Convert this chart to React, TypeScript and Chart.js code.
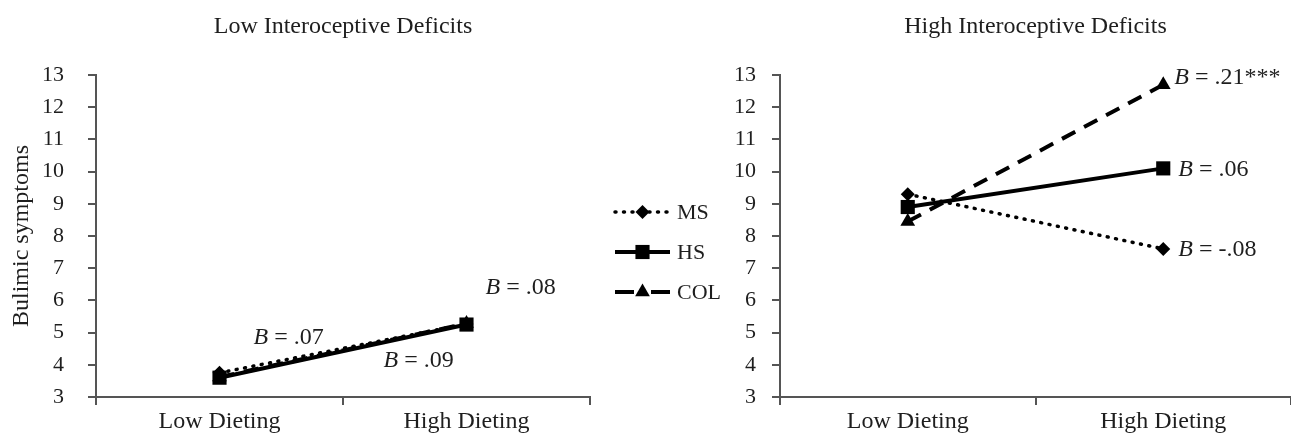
import React, { useEffect, useRef } from 'react';
import { Chart, registerables } from 'chart.js';

Chart.register(...registerables);

const categories = ['Low Dieting', 'High Dieting'];
const seriesNames = ['MS', 'HS', 'COL'];
const panelTitles = ['Low Interoceptive Deficits', 'High Interoceptive Deficits'];
const yAxisTitle = 'Bulimic symptoms';
const yMin = 3;
const yMax = 13;
const yStep = 1;

// Low interoceptive deficits panel
const lowMS = [3.75, 5.27];
const lowHS = [3.6, 5.25];
const lowCOL = [3.62, 5.28];
const lowSlopes = ['.07', '.09', '.08'];

// High interoceptive deficits panel
const highMS = [9.3, 7.6];
const highHS = [8.9, 10.1];
const highCOL = [8.45, 12.7];
const highSlopes = ['-.08', '.06', '.21***'];

const FONT = '"Liberation Serif", "Times New Roman", serif';
const AXIS_COLOR = '#555555';
const TEXT_COLOR = '#1e1e1e';

const seriesStyles = [
  { pointStyle: 'rectRot', radius: 7, dash: [1, 7.5], legendDash: [1, 7.5], width: 3.5, cap: 'round', order: 1 },
  { pointStyle: 'rect', radius: 10, dash: [], legendDash: [], width: 4, cap: 'butt', order: 0 },
  { pointStyle: 'triangle', radius: 8.5, dash: [15, 10], legendDash: [19, 17, 19, 0], width: 4, cap: 'butt', order: 2 },
];

function drawMarker(ctx: CanvasRenderingContext2D, style: string, x: number, y: number, r: number) {
  ctx.beginPath();
  if (style === 'rect') {
    const s = Math.SQRT1_2 * r;
    ctx.rect(x - s, y - s, 2 * s, 2 * s);
  } else if (style === 'rectRot') {
    ctx.moveTo(x - r, y);
    ctx.lineTo(x, y - r);
    ctx.lineTo(x + r, y);
    ctx.lineTo(x, y + r);
    ctx.closePath();
  } else {
    let rad = 0;
    ctx.moveTo(x + Math.sin(rad) * r, y - Math.cos(rad) * r);
    rad += (2 * Math.PI) / 3;
    ctx.lineTo(x + Math.sin(rad) * r, y - Math.cos(rad) * r);
    rad += (2 * Math.PI) / 3;
    ctx.lineTo(x + Math.sin(rad) * r, y - Math.cos(rad) * r);
    ctx.closePath();
  }
  ctx.fillStyle = '#000';
  ctx.fill();
}

const panelPlugin = {
  id: 'panelExtras',
  afterDraw(chart: any, _args: any, opts: any) {
    const ctx: CanvasRenderingContext2D = chart.ctx;
    const area = chart.chartArea;
    ctx.save();
    // panel title
    ctx.fillStyle = TEXT_COLOR;
    ctx.font = `24px ${FONT}`;
    ctx.textAlign = 'center';
    ctx.textBaseline = 'middle';
    ctx.fillText(opts.title, (area.left + area.right) / 2, 27);

    // slope annotations
    ctx.textAlign = 'left';
    (opts.annotations || []).forEach((a: any) => {
      const meta = chart.getDatasetMeta(a.ds);
      const pt = meta.data[a.idx];
      const x = pt.x + a.dx;
      const y = pt.y + a.dy;
      ctx.font = `italic 24px ${FONT}`;
      ctx.fillText('B', x, y);
      const w = ctx.measureText('B').width;
      ctx.font = `24px ${FONT}`;
      ctx.fillText(' = ' + opts.slopes[a.ds], x + w, y);
    });

    // legend
    if (opts.legend) {
      const lg = opts.legend;
      chart.data.datasets.forEach((ds: any, i: number) => {
        const st = seriesStyles[i];
        const y = lg.y + i * lg.gap;
        ctx.save();
        ctx.strokeStyle = '#000';
        ctx.lineWidth = st.width;
        ctx.lineCap = st.cap as CanvasLineCap;
        ctx.setLineDash(st.legendDash);
        ctx.beginPath();
        ctx.moveTo(lg.x, y);
        ctx.lineTo(lg.x + lg.len, y);
        ctx.stroke();
        ctx.restore();
        drawMarker(ctx, st.pointStyle, lg.x + lg.len / 2, y, st.radius);
        ctx.fillStyle = TEXT_COLOR;
        ctx.font = `22px ${FONT}`;
        ctx.textAlign = 'left';
        ctx.textBaseline = 'middle';
        ctx.fillText(ds.label, lg.x + lg.len + 7, y + 1);
      });
    }
    ctx.restore();
  },
};

function makeDatasets(ms: number[], hs: number[], col: number[]) {
  return [ms, hs, col].map((vals, i) => {
    const st = seriesStyles[i];
    return {
      label: seriesNames[i],
      data: vals,
      borderColor: '#000',
      backgroundColor: '#000',
      borderWidth: st.width,
      borderDash: st.dash,
      borderCapStyle: st.cap,
      pointStyle: st.pointStyle,
      pointRadius: st.radius,
      pointBackgroundColor: '#000',
      pointBorderColor: '#000',
      pointBorderWidth: 0,
      order: st.order,
      tension: 0,
      fill: false,
    };
  });
}

function makeConfig(
  datasets: any[],
  yWidth: number,
  tickPad: number,
  showTitle: boolean,
  padRight: number,
  extras: any
): any {
  return {
    type: 'line',
    data: { labels: categories, datasets },
    plugins: [panelPlugin],
    options: {
      responsive: false,
      animation: false,
      devicePixelRatio: 1,
      layout: { autoPadding: false, padding: { left: 0, right: padRight, top: 75, bottom: 0 } },
      plugins: {
        legend: { display: false },
        title: { display: false },
        tooltip: { enabled: false },
        panelExtras: extras,
      },
      scales: {
        x: {
          type: 'category',
          offset: true,
          grid: {
            offset: true,
            drawOnChartArea: false,
            drawTicks: true,
            tickLength: 8,
            color: AXIS_COLOR,
            lineWidth: 2,
          },
          border: { color: AXIS_COLOR, width: 2 },
          ticks: {
            color: TEXT_COLOR,
            font: { family: FONT, size: 24 },
            padding: 2,
            maxRotation: 0,
          },
          afterFit(scale: any) {
            scale.height = 43;
          },
        },
        y: {
          min: yMin,
          max: yMax,
          grid: {
            drawOnChartArea: false,
            drawTicks: true,
            tickLength: 8,
            color: AXIS_COLOR,
            lineWidth: 2,
          },
          border: { color: AXIS_COLOR, width: 2 },
          ticks: {
            stepSize: yStep,
            color: TEXT_COLOR,
            font: { family: FONT, size: 22 },
            padding: tickPad,
          },
          title: {
            display: showTitle,
            text: yAxisTitle,
            color: TEXT_COLOR,
            font: { family: FONT, size: 24 },
            padding: { top: 7, bottom: 0 },
          },
          afterFit(scale: any) {
            scale.width = yWidth;
          },
        },
      },
    },
  };
}

export default function App() {
  const leftRef = useRef<HTMLCanvasElement | null>(null);
  const rightRef = useRef<HTMLCanvasElement | null>(null);

  useEffect(() => {
    const left = new Chart(
      leftRef.current as HTMLCanvasElement,
      makeConfig(makeDatasets(lowMS, lowHS, lowCOL), 96, 24, true, 170, {
        title: panelTitles[0],
        slopes: lowSlopes,
        annotations: [
          { ds: 0, idx: 0, dx: 34, dy: -35 },
          { ds: 1, idx: 1, dx: -83, dy: 36 },
          { ds: 2, idx: 1, dx: 19, dy: -36 },
        ],
        legend: { x: 615, y: 212, gap: 40, len: 55 },
      })
    );
    const right = new Chart(
      rightRef.current as HTMLCanvasElement,
      makeConfig(makeDatasets(highMS, highHS, highCOL), 90, 16, false, 0, {
        title: panelTitles[1],
        slopes: highSlopes,
        annotations: [
          { ds: 0, idx: 1, dx: 15, dy: 1 },
          { ds: 1, idx: 1, dx: 15, dy: 1 },
          { ds: 2, idx: 1, dx: 11, dy: -7 },
        ],
      })
    );
    return () => {
      left.destroy();
      right.destroy();
    };
  }, []);

  return (
    <div style={{ position: 'absolute', left: 0, top: 0, width: 1291, height: 440, background: '#fff', overflow: 'hidden' }}>
      <canvas
        ref={leftRef}
        width={760}
        height={440}
        style={{ position: 'absolute', left: 0, top: 0, width: 760, height: 440 }}
      />
      <canvas
        ref={rightRef}
        width={601}
        height={440}
        style={{ position: 'absolute', left: 690, top: 0, width: 601, height: 440 }}
      />
    </div>
  );
}
